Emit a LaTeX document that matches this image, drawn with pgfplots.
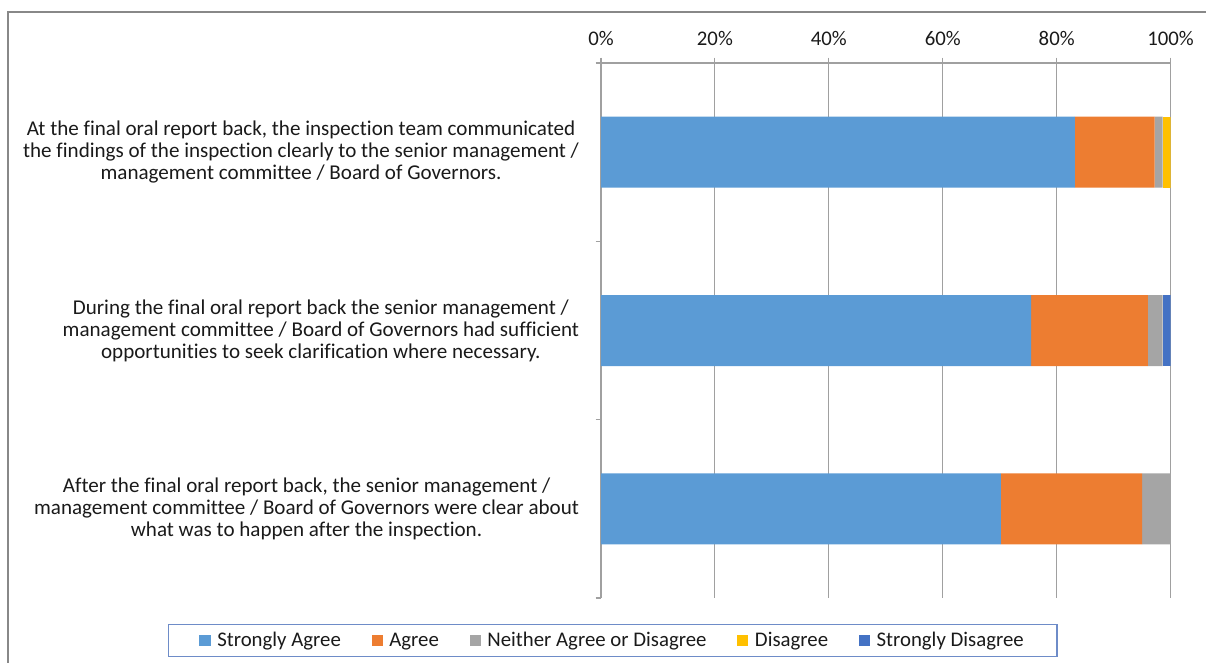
\documentclass[border=0pt]{standalone}
\usepackage{pgfplots}
\pgfplotsset{compat=1.18}
\usepackage{fontspec}
\setmainfont{Carlito}[Ligatures={NoCommon}]
\definecolor{cSA}{HTML}{5B9BD5}
\definecolor{cA}{HTML}{ED7D31}
\definecolor{cN}{HTML}{A5A5A5}
\definecolor{cD}{HTML}{FFC000}
\definecolor{cSD}{HTML}{4472C4}
\definecolor{gridc}{HTML}{A0A0A0}
\definecolor{framec}{HTML}{888888}
\definecolor{legc}{HTML}{6E8CC8}
\definecolor{txt}{HTML}{1A1A1A}
\begin{document}
\begin{tikzpicture}[x=1pt,y=1pt]
\useasboundingbox (0,0) rectangle (904.5,496.5);
\draw[color=framec, line width=0.9pt] (6,-5) -- (6,487.5) -- (915,487.5);
\begin{axis}[
  at={(450.75pt,48pt)}, anchor=south west,
  scale only axis, width=427.2pt, height=401.25pt,
  xbar stacked, bar width=53.25pt,
  xmin=0, xmax=100, ymin=-0.5, ymax=2.5,
  y dir=reverse,
  enlargelimits=false,
  axis x line*=top, axis y line*=left,
  axis line style={color=gridc, line width=0.8pt},
  xtick={0,20,40,60,80,100},
  xticklabel={\pgfmathprintnumber{\tick}\%},
  /pgf/number format/assume math mode=true,
  xmajorgrids, major grid style={color=gridc, line width=0.8pt},
  tick align=outside,
  major tick length=4pt, minor tick length=4pt,
  major x tick style={color=gridc, line width=0.8pt},
  ytick={0,1,2},
  major y tick style={draw=none},
  minor ytick={-0.5,0.5,1.5,2.5},
  minor y tick style={color=gridc, line width=0.8pt},
  yticklabels={
    {At the final oral report back, the inspection team communicated\\the findings of the inspection clearly to the senior management /\\management committee / Board of Governors.},
    {During the final oral report back the senior management /\\management committee / Board of Governors had sufficient\\opportunities to seek clarification where necessary.},
    {After the final oral report back, the senior management /\\management committee / Board of Governors were clear about\\what was to happen after the inspection.}},
  yticklabel style={align=center, font=\fontsize{15.8pt}{16.5pt}\selectfont, text=txt, xshift=-9pt},
  xticklabel style={font=\fontsize{15.6pt}{16pt}\selectfont, text=txt, yshift=5.5pt},
  legend columns=5,
  legend style={at={(axis description cs:0.021,-0.0795)}, anchor=center,
    draw=legc, line width=1pt,
    font=\fontsize{15.6pt}{16pt}\selectfont, text=txt,
    inner xsep=23pt, inner ysep=4pt,
    /tikz/every odd column/.append style={column sep=3pt},
    /tikz/every even column/.append style={column sep=21pt}},
  legend image code/.code={\fill[#1] (0pt,-4.2pt) rectangle (8.4pt,4.2pt);},
]
\addplot[fill=cSA, draw=none] coordinates {(83.2,0) (75.5,1) (70.2,2)};
\addplot[fill=cA, draw=none] coordinates {(14.0,0) (20.5,1) (24.8,2)};
\addplot[fill=cN, draw=none] coordinates {(1.4,0) (2.6,1) (5.0,2)};
\addplot[fill=cD, draw=none] coordinates {(1.4,0) (0,1) (0,2)};
\addplot[fill=cSD, draw=none] coordinates {(0,0) (1.4,1) (0,2)};
\legend{Strongly Agree, Agree, Neither Agree or Disagree, Disagree, Strongly Disagree}
\end{axis}
\end{tikzpicture}
\end{document}
